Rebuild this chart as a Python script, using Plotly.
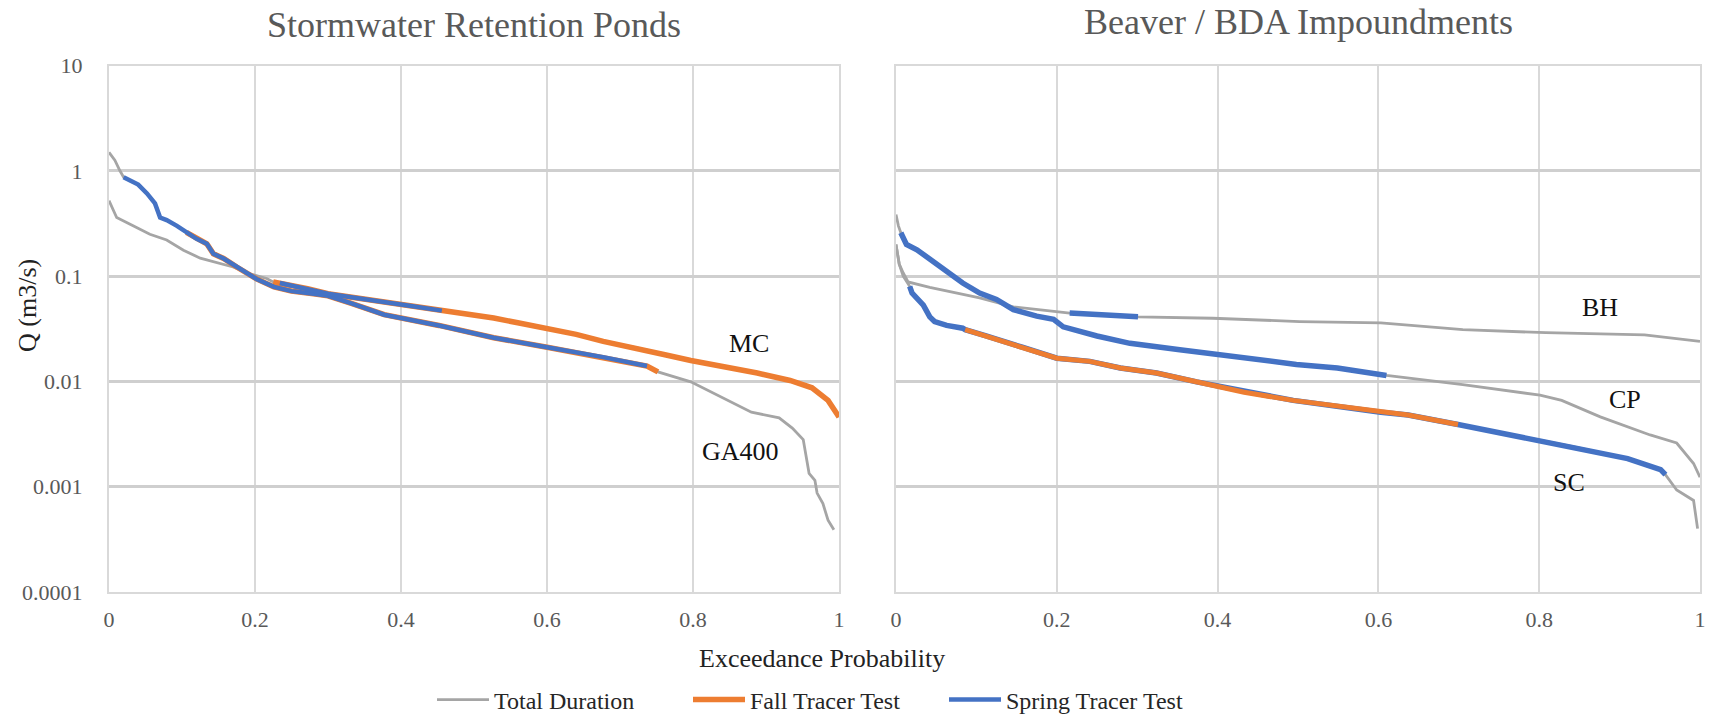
import numpy as np
import plotly.graph_objects as go

# ---------------- DATA ----------------
# Left panel: Stormwater Retention Ponds
ga400_p = [0, 0.008, 0.015, 0.02, 0.033, 0.04, 0.052, 0.063, 0.07, 0.079, 0.093, 0.106, 0.12, 0.134,
           0.143, 0.157, 0.175, 0.189, 0.202, 0.226, 0.25, 0.28, 0.30, 0.332, 0.377, 0.452, 0.527,
           0.602, 0.677, 0.737, 0.752, 0.797, 0.842, 0.88, 0.918, 0.936, 0.951, 0.959, 0.967, 0.97,
           0.978, 0.985, 0.993]
ga400_q = [1.5, 1.26, 1.0, 0.87, 0.78, 0.74, 0.61, 0.49, 0.36, 0.34, 0.30, 0.26, 0.226, 0.203,
           0.163, 0.147, 0.122, 0.106, 0.094, 0.079, 0.072, 0.068, 0.065, 0.055, 0.043, 0.034, 0.026,
           0.021, 0.017, 0.014, 0.0123, 0.0099, 0.0069, 0.0051, 0.0045, 0.0036, 0.0028, 0.00134,
           0.00115, 0.00087, 0.00069, 0.00048, 0.00039]
ga400_fall = (0.106, 0.752)
ga400_spring = (0.02, 0.737)

mc_p = [0, 0.0105, 0.033, 0.056, 0.079, 0.102, 0.125, 0.148, 0.17, 0.193, 0.216, 0.225, 0.234,
        0.272, 0.30, 0.332, 0.377, 0.414, 0.456, 0.5, 0.527, 0.56, 0.602, 0.64, 0.677, 0.72, 0.76,
        0.797, 0.85, 0.888, 0.933, 0.963, 0.985, 1.0]
mc_q = [0.52, 0.36, 0.30, 0.25, 0.22, 0.176, 0.148, 0.133, 0.122, 0.105, 0.095, 0.088, 0.086,
        0.076, 0.068, 0.063, 0.056, 0.052, 0.047, 0.043, 0.040, 0.036, 0.032, 0.028, 0.024, 0.021,
        0.018, 0.0158, 0.0135, 0.012, 0.0102, 0.0087, 0.0066, 0.0046]
mc_fall = (0.225, 1.0)
mc_spring = (0.234, 0.456)

# Right panel: Beaver / BDA Impoundments
cp_p = [0, 0.003, 0.006, 0.013, 0.026, 0.042, 0.063, 0.083, 0.104, 0.125, 0.146, 0.175, 0.196,
        0.208, 0.25, 0.291, 0.353, 0.415, 0.498, 0.549, 0.61, 0.705, 0.801, 0.828, 0.876, 0.938,
        0.971, 0.992, 1.0]
cp_q = [0.385, 0.3, 0.258, 0.2, 0.178, 0.144, 0.111, 0.086, 0.069, 0.060, 0.048, 0.0417, 0.0389,
        0.033, 0.027, 0.023, 0.020, 0.0173, 0.0145, 0.0134, 0.0114, 0.0093, 0.0074, 0.0066, 0.0046,
        0.0031, 0.0026, 0.00166, 0.00123]
cp_spring = (0.006, 0.61)

bh_p = [0, 0.004, 0.009, 0.015, 0.042, 0.063, 0.104, 0.146, 0.2, 0.216, 0.25, 0.301, 0.394, 0.502,
        0.603, 0.705, 0.808, 0.931, 1.0]
bh_q = [0.2, 0.13, 0.107, 0.088, 0.078, 0.072, 0.062, 0.051, 0.046, 0.0446, 0.043, 0.041, 0.0398,
        0.037, 0.0359, 0.031, 0.029, 0.0277, 0.024]
bh_spring = (0.216, 0.301)

sc_p = [0, 0.004, 0.009, 0.017, 0.02, 0.034, 0.042, 0.048, 0.063, 0.083, 0.086, 0.112, 0.125,
        0.158, 0.2, 0.241, 0.279, 0.324, 0.374, 0.415, 0.433, 0.494, 0.603, 0.637, 0.699, 0.774,
        0.842, 0.91, 0.951, 0.957, 0.971, 0.992, 0.997]
sc_q = [0.2, 0.13, 0.1, 0.08, 0.069, 0.053, 0.041, 0.037, 0.034, 0.032, 0.031, 0.027, 0.025, 0.021,
        0.0166, 0.0155, 0.0134, 0.012, 0.0099, 0.0086, 0.0079, 0.0066, 0.0051, 0.0048, 0.0039,
        0.0030, 0.0024, 0.00185, 0.00145, 0.0013, 0.00093, 0.00074, 0.0004]
sc_fall = (0.086, 0.699)
sc_spring = (0.017, 0.957)

x_ticks = [0, 0.2, 0.4, 0.6, 0.8, 1]
x_ticktext = ["0", "0.2", "0.4", "0.6", "0.8", "1"]
y_ticks = [0.0001, 0.001, 0.01, 0.1, 1, 10]
y_ticktext = ["0.0001", "0.001", "0.01", "0.1", "1", "10"]

# ---------------- STYLE ----------------
FONT = "Liberation Serif"
GRAY = "#A5A5A5"
ORANGE = "#ED7D31"
BLUE = "#4472C4"
W, H = 1715, 714


def seg(p, q, rng):
    p = np.array(p)
    q = np.array(q)
    m = (p >= rng[0] - 1e-9) & (p <= rng[1] + 1e-9)
    return p[m], q[m]


fig = go.Figure()


def add(p, q, color, width, name, xa, ya, show):
    fig.add_trace(go.Scatter(x=p, y=q, mode="lines", line=dict(color=color, width=width),
                             name=name, legendgroup=name, showlegend=show,
                             xaxis=xa, yaxis=ya, hoverinfo="x+y"))


# left panel (grays, then fall, then spring on top)
add(ga400_p, ga400_q, GRAY, 2.8, "Total Duration", "x", "y", True)
add(mc_p, mc_q, GRAY, 2.8, "Total Duration", "x", "y", False)
add(*seg(ga400_p, ga400_q, ga400_fall), ORANGE, 5.5, "Fall Tracer Test", "x", "y", True)
add(*seg(mc_p, mc_q, mc_fall), ORANGE, 5.5, "Fall Tracer Test", "x", "y", False)
add(*seg(ga400_p, ga400_q, ga400_spring), BLUE, 4.5, "Spring Tracer Test", "x", "y", True)
add(*seg(mc_p, mc_q, mc_spring), BLUE, 4.5, "Spring Tracer Test", "x", "y", False)

# right panel
add(cp_p, cp_q, GRAY, 2.8, "Total Duration", "x2", "y2", False)
add(bh_p, bh_q, GRAY, 2.8, "Total Duration", "x2", "y2", False)
add(sc_p, sc_q, GRAY, 2.8, "Total Duration", "x2", "y2", False)
add(*seg(cp_p, cp_q, cp_spring), BLUE, 5.5, "Spring Tracer Test", "x2", "y2", False)
add(*seg(bh_p, bh_q, bh_spring), BLUE, 5.5, "Spring Tracer Test", "x2", "y2", False)
add(*seg(sc_p, sc_q, sc_spring), BLUE, 5.5, "Spring Tracer Test", "x2", "y2", False)
add(*seg(sc_p, sc_q, sc_fall), ORANGE, 5, "Fall Tracer Test", "x2", "y2", False)

ydom = [1 - 592 / H, 1 - 65.5 / H]
common_x = dict(range=[0, 1], tickvals=x_ticks, ticktext=x_ticktext, showgrid=True,
                gridcolor="#D9D9D9", gridwidth=2, zeroline=False, showline=True,
                linecolor="#D9D9D9", linewidth=2, mirror=True, ticks="",
                ticklabelstandoff=7, automargin=False,
                tickfont=dict(family=FONT, size=22, color="#595959"))
common_y = dict(type="log", range=[-4, 1], tickvals=y_ticks, ticktext=y_ticktext,
                showgrid=True, gridcolor="#CFCFCF", gridwidth=2.5, zeroline=False,
                showline=True, linecolor="#D9D9D9", linewidth=2, mirror=True, ticks="",
                automargin=False,
                domain=ydom, tickfont=dict(family=FONT, size=22, color="#595959"))

fig.update_layout(
    width=W, height=H,
    margin=dict(l=0, r=0, t=0, b=0, autoexpand=False),
    paper_bgcolor="white", plot_bgcolor="white",
    font=dict(family=FONT),
    xaxis=dict(domain=[109 / W, 839 / W], anchor="y", **common_x),
    yaxis=dict(anchor="x", ticklabelstandoff=20, **common_y),
    xaxis2=dict(domain=[896 / W, 1700 / W], anchor="y2", **common_x),
    yaxis2=dict(anchor="x2", showticklabels=False, **common_y),
    legend=dict(orientation="h", x=432 / W, xanchor="left", y=1 - 700 / H, yanchor="middle",
                font=dict(family=FONT, size=24, color="#262626"), itemwidth=52,
                entrywidth=189, bgcolor="rgba(0,0,0,0)"),
    showlegend=True,
)

ann = []
ann.append(dict(text="Stormwater Retention Ponds", x=474 / W, y=1 - 25 / H, xref="paper",
                yref="paper", xanchor="center", yanchor="middle", showarrow=False,
                font=dict(family=FONT, size=36, color="#595959")))
ann.append(dict(text="Beaver / BDA Impoundments", x=1298 / W, y=1 - 22 / H, xref="paper",
                yref="paper", xanchor="center", yanchor="middle", showarrow=False,
                font=dict(family=FONT, size=36, color="#595959")))
ann.append(dict(text="Exceedance Probability", x=822 / W, y=1 - 658 / H, xref="paper",
                yref="paper", xanchor="center", yanchor="middle", showarrow=False,
                font=dict(family=FONT, size=26, color="#222222")))
ann.append(dict(text="Q (m3/s)", x=27 / W, y=1 - 305 / H, xref="paper", yref="paper",
                xanchor="center", yanchor="middle", textangle=-90, showarrow=False,
                font=dict(family=FONT, size=26, color="#222222")))

labels = [("MC", 0.877, 0.023, "x", "y"), ("GA400", 0.865, 0.00214, "x", "y"),
          ("BH", 0.876, 0.050, "x2", "y2"), ("CP", 0.907, 0.0068, "x2", "y2"),
          ("SC", 0.837, 0.0011, "x2", "y2")]
for t, px, qy, xr, yr in labels:
    ann.append(dict(text=t, x=px, y=np.log10(qy), xref=xr, yref=yr, showarrow=False,
                    xanchor="center", yanchor="middle",
                    font=dict(family=FONT, size=26, color="#111111")))
fig.update_layout(annotations=ann)

fig.write_html("out.html")
